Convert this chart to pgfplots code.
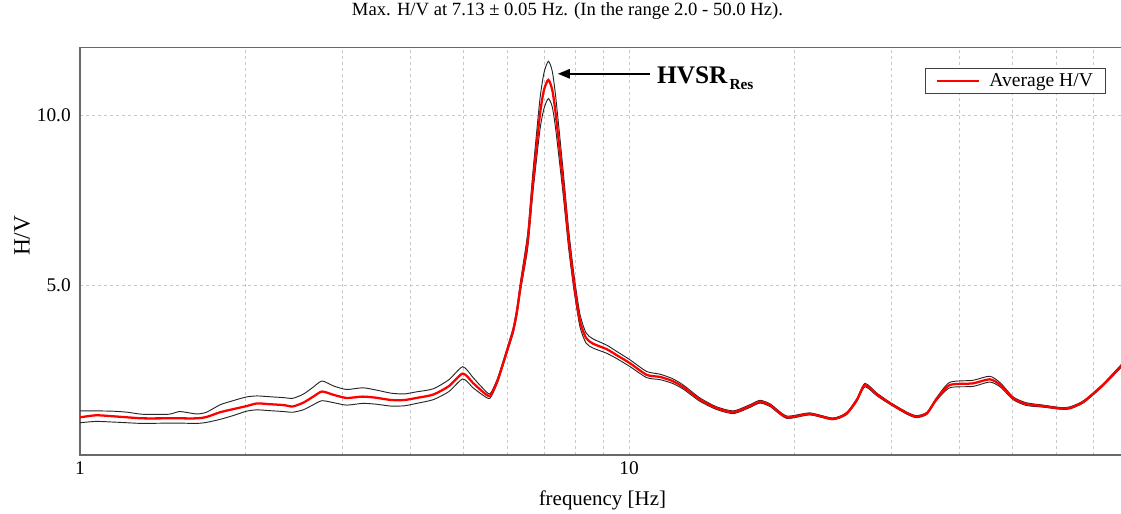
\documentclass[border=0pt]{standalone}
\usepackage{pgfplots}
\pgfplotsset{compat=1.18}
\usepackage{pgfplotstable}
\usepackage{fontspec}
\setmainfont{Liberation Serif}
\usetikzlibrary{arrows.meta}

\pgfplotstableread{
f m u l
1.00 1.11 1.30 0.95
1.07 1.17 1.30 0.99
1.15 1.14 1.29 0.97
1.22 1.11 1.26 0.95
1.30 1.08 1.20 0.93
1.45 1.08 1.20 0.94
1.52 1.08 1.28 0.94
1.63 1.08 1.21 0.93
1.70 1.12 1.26 0.96
1.80 1.26 1.48 1.05
1.90 1.35 1.60 1.16
2.01 1.44 1.71 1.29
2.10 1.52 1.74 1.33
2.20 1.50 1.72 1.31
2.35 1.47 1.69 1.28
2.44 1.43 1.67 1.26
2.55 1.54 1.79 1.33
2.66 1.72 2.00 1.48
2.76 1.87 2.18 1.60
2.90 1.77 2.03 1.54
3.06 1.68 1.93 1.47
3.27 1.72 1.98 1.52
3.45 1.69 1.92 1.50
3.69 1.62 1.82 1.44
3.90 1.62 1.80 1.45
4.10 1.68 1.86 1.52
4.40 1.78 1.95 1.63
4.70 2.03 2.22 1.87
4.98 2.40 2.60 2.24
5.20 2.12 2.28 1.98
5.40 1.88 1.99 1.78
5.58 1.74 1.80 1.67
5.75 2.15 2.22 2.10
5.86 2.55 2.62 2.50
6.07 3.35 3.42 3.28
6.16 3.70 3.79 3.62
6.25 4.22 4.35 4.12
6.35 5.00 5.15 4.87
6.54 6.32 6.55 6.10
6.68 7.99 8.30 7.70
6.88 10.00 10.45 9.55
7.00 10.75 11.25 10.20
7.13 11.05 11.60 10.50
7.25 10.75 11.30 10.25
7.36 10.00 10.50 9.55
7.59 7.99 8.35 7.65
7.77 6.32 6.60 6.05
7.95 5.00 5.25 4.80
8.14 3.95 4.15 3.78
8.35 3.45 3.60 3.30
8.60 3.28 3.42 3.15
9.10 3.12 3.24 3.00
9.50 2.94 3.05 2.84
10.05 2.70 2.80 2.60
10.77 2.36 2.46 2.28
11.39 2.30 2.38 2.22
12.00 2.18 2.25 2.11
12.56 2.00 2.06 1.94
13.47 1.63 1.68 1.58
14.44 1.38 1.42 1.34
15.49 1.26 1.30 1.22
16.60 1.44 1.48 1.40
17.32 1.57 1.61 1.53
18.10 1.46 1.50 1.42
19.38 1.11 1.15 1.08
21.35 1.21 1.24 1.18
23.50 1.06 1.09 1.04
24.90 1.22 1.25 1.19
26.00 1.62 1.66 1.58
26.90 2.06 2.11 2.01
28.30 1.78 1.82 1.74
29.90 1.52 1.55 1.49
32.10 1.23 1.26 1.20
33.40 1.13 1.16 1.10
34.90 1.23 1.26 1.20
36.30 1.64 1.68 1.60
38.40 2.06 2.14 1.98
42.30 2.11 2.20 2.02
45.40 2.23 2.32 2.15
47.50 2.06 2.12 2.00
50.10 1.67 1.71 1.63
52.90 1.50 1.54 1.46
56.80 1.44 1.47 1.41
61.00 1.37 1.40 1.35
63.60 1.39 1.42 1.36
67.30 1.57 1.60 1.54
73.00 2.06 2.09 2.03
78.90 2.63 2.67 2.59
80.00 2.72 2.76 2.68
}\hvdata

\definecolor{axisgray}{RGB}{105,105,105}
\definecolor{gridgray}{RGB}{200,200,200}

\begin{document}
\begin{tikzpicture}
\begin{axis}[
  scale only axis,
  width=783.6pt, height=305.5pt,
  xmode=log, xmin=1, xmax=80, ymin=0, ymax=12,
  xtick={1,10}, xticklabels={1,10},
  minor xtick={2,3,4,5,6,7,8,9,20,30,40,50,60,70,80},
  ytick={5,10}, yticklabels={5.0,10.0},
  major tick length=0pt, minor tick length=0pt,
  xmajorgrids, xminorgrids, ymajorgrids,
  grid style={gridgray, line width=0.6pt, dash pattern=on 2.25pt off 2.25pt},
  minor grid style={gridgray, line width=0.6pt, dash pattern=on 2.25pt off 2.25pt},
  axis line style={axisgray, line width=1pt},
  tick label style={font=\fontsize{14.5}{16}\selectfont},
  xticklabel style={anchor=base, yshift=-14.25pt},
  yticklabel style={anchor=east, inner sep=0pt, xshift=-6.75pt},
  xlabel={frequency [Hz]},
  xlabel style={font=\fontsize{15.7}{18}\selectfont, at={(axis description cs:0.5,-0.1228)}, anchor=base},
  ylabel={H/V},
  ylabel style={font=\fontsize{17.5}{18}\selectfont, at={(axis description cs:-0.0555,0.538)}, anchor=center},
  title={Max. H/V at 7.13 ± 0.05 Hz. (In the range 2.0 - 50.0 Hz).},
  title style={font=\fontsize{14}{16}\selectfont, at={(axis description cs:0.4666,1.0582)}, anchor=base},
  legend style={at={(axis description cs:0.982,0.9494)}, anchor=north east,
    draw=black!75, line width=0.6pt, font=\fontsize{14.7}{16}\selectfont,
    inner xsep=7.5pt, inner ysep=1.5pt, cells={anchor=west}},
  legend image code/.code={\draw[#1, line width=1.7pt] (0pt,0pt) -- (31.5pt,0pt);},
]
\addplot[black!85, line width=0.7pt, smooth, tension=0.4, forget plot] table[x=f, y=u] {\hvdata};
\addplot[black!85, line width=0.7pt, smooth, tension=0.4, forget plot] table[x=f, y=l] {\hvdata};
\addplot[red, line width=1.7pt, smooth, tension=0.4] table[x=f, y=m] {\hvdata};
\addlegendentry{\hspace{5pt}Average H/V\hspace{13pt}}
\draw[-{Triangle[length=9pt,width=7pt]}, line width=1.3pt, black] (axis cs:10.92,11.23) -- (axis cs:7.42,11.23);
\node[anchor=base west, inner sep=0pt] at (axis cs:11.24,10.95)
  {\fontsize{19}{20}\selectfont\bfseries HVSR\kern1.5pt\raisebox{-5pt}{\fontsize{11.5}{12}\selectfont\bfseries Res}};
\end{axis}
\pgfresetboundingbox
\path (-60pt,-44.25pt) rectangle (780.75pt,341.25pt);
\end{tikzpicture}
\end{document}
